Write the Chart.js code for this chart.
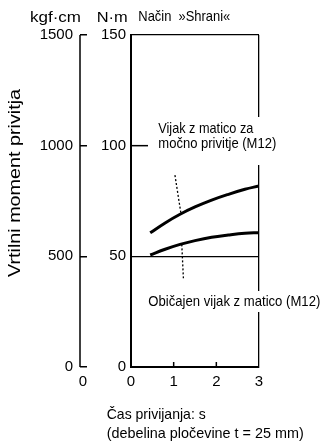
<!DOCTYPE html>
<html>
<head>
<meta charset="utf-8">
<script src="https://cdn.jsdelivr.net/npm/chart.js@4.4.1/dist/chart.umd.min.js"></script>
<style>
    html, body { margin: 0; padding: 0; background: #fff; }
    #wrap { width: 322px; height: 444px; position: relative; }
</style>
</head>
<body>
<div id="wrap"><canvas id="torque-chart"></canvas></div>
<script>
// Tightening time (s) and torque (N·m)
const timeStrong = [0.45, 0.80, 1.15, 1.50, 1.89, 2.28, 2.67, 3.0];
const torqueStrong = [60.6, 65.1, 69.0, 72.3, 75.4, 78.0, 80.3, 81.8];
const timeNormal = [0.45, 0.80, 1.15, 1.50, 1.89, 2.28, 2.67, 3.0];
const torqueNormal = [50.6, 53.2, 55.4, 57.1, 58.6, 59.6, 60.4, 60.7];

// Leader lines from the labels to the curves
const leaderStrongTime = [1.03, 1.17];
const leaderStrongTorque = [86.7, 69.4];
const leaderNormalTime = [1.19, 1.23];
const leaderNormalTorque = [55.4, 39.2];

// Axis ranges / ticks
const xTicks = [0, 1, 2, 3];
const nmTicks = [0, 50, 100, 150];
const kgfTicks = [0, 500, 1000, 1500];

const labelStrong = ['Vijak z matico za', 'močno privitje (M12)'];
const labelNormal = 'Običajen vijak z matico (M12)';
const yTitle = 'Vrtilni moment privitja';
const xTitle = ['Čas privijanja: s', '(debelina pločevine t = 25 mm)'];

const FONT = '"Liberation Sans", Arial, Helvetica, sans-serif';

const toPoints = (xs, ys) => xs.map((v, i) => ({ x: v, y: ys[i] }));

// draw text squeezed/stretched to a given width (narrow face in the original)
function fitText(ctx, text, x, y, width, size, align) {
    ctx.save();
    ctx.font = size + 'px ' + FONT;
    const w = ctx.measureText(text).width;
    const sx = width / w;
    ctx.translate(x, y);
    ctx.scale(sx, 1);
    ctx.textAlign = align || 'left';
    ctx.textBaseline = 'middle';
    ctx.fillText(text, 0, 0);
    ctx.restore();
}

const decorations = {
    id: 'decorations',
    afterDraw(chart) {
        const ctx = chart.ctx;
        const { x, y, y2 } = chart.scales;
        ctx.save();
        ctx.strokeStyle = '#000';
        ctx.fillStyle = '#000';

        // kgf·cm axis line
        const ax = y2.right - 7;
        ctx.lineWidth = 1.5;
        ctx.beginPath();
        ctx.moveTo(ax, y2.getPixelForValue(1500));
        ctx.lineTo(ax, y2.getPixelForValue(0));
        ctx.stroke();

        // inward ticks on the main axes
        [1, 2].forEach(t => {
            const px = x.getPixelForValue(t);
            ctx.beginPath();
            ctx.moveTo(px, y.getPixelForValue(0));
            ctx.lineTo(px, y.getPixelForValue(0) - 5);
            ctx.stroke();
        });
        const p100 = y.getPixelForValue(100);
        ctx.beginPath();
        ctx.moveTo(x.left, p100);
        ctx.lineTo(x.left + 17, p100);
        ctx.stroke();

        // curve labels on white (they break the right border)
        ctx.fillStyle = '#fff';
        ctx.fillRect(155, 117, 125, 48);
        ctx.fillRect(146, 291, 176, 21);
        ctx.fillStyle = '#000';
        fitText(ctx, labelStrong[0], 158.3, 129, 95, 15);
        fitText(ctx, labelStrong[1], 158.3, 143.5, 118, 15);
        fitText(ctx, labelNormal, 148.3, 301.7, 172, 15);

        // headers
        fitText(ctx, 'kgf·cm', 30, 18.3, 51, 15);
        fitText(ctx, 'N·m', 96.7, 18.3, 31, 15);
        fitText(ctx, 'Način  »Shrani«', 138.3, 16.7, 92, 15);

        // zero under the kgf axis
        ctx.font = '15px ' + FONT;
        ctx.textAlign = 'center';
        ctx.textBaseline = 'middle';
        ctx.fillText('0', 83, 382);

        // x title
        fitText(ctx, xTitle[0], 106.7, 415, 99, 15);
        fitText(ctx, xTitle[1], 106.7, 434.3, 197, 15);

        // y title (rotated)
        ctx.save();
        ctx.translate(15.5, 183);
        ctx.rotate(-Math.PI / 2);
        fitText(ctx, yTitle, 0, 0, 188, 17, 'center');
        ctx.restore();

        ctx.restore();
    }
};

const plainTick = v => String(v);

const ctx = document.getElementById('torque-chart').getContext('2d');
new Chart(ctx, {
    type: 'line',
    data: {
        datasets: [
            {
                label: labelStrong.join(' '),
                data: toPoints(timeStrong, torqueStrong),
                borderColor: '#000',
                borderWidth: 3,
                tension: 0.4,
                pointRadius: 0,
                fill: false
            },
            {
                label: labelNormal,
                data: toPoints(timeNormal, torqueNormal),
                borderColor: '#000',
                borderWidth: 3,
                tension: 0.4,
                pointRadius: 0,
                fill: false
            },
            {
                label: 'leader1',
                data: toPoints(leaderStrongTime, leaderStrongTorque),
                borderColor: '#000',
                borderWidth: 1.3,
                borderDash: [2, 2],
                pointRadius: 0,
                fill: false
            },
            {
                label: 'leader2',
                data: toPoints(leaderNormalTime, leaderNormalTorque),
                borderColor: '#000',
                borderWidth: 1.3,
                borderDash: [2, 2],
                pointRadius: 0,
                fill: false
            }
        ]
    },
    options: {
        responsive: true,
        maintainAspectRatio: false,
        animation: false,
        layout: { padding: { top: 35, right: 63, bottom: 0, left: 0 } },
        plugins: {
            legend: { display: false },
            tooltip: { enabled: false }
        },
        scales: {
            x: {
                type: 'linear',
                min: 0,
                max: 3,
                afterBuildTicks: s => { s.ticks = xTicks.map(v => ({ value: v })); },
                ticks: { color: '#000', font: { family: FONT, size: 15 }, padding: 6, callback: plainTick },
                grid: {
                    drawTicks: false,
                    color: c => (c.tick && c.tick.value === 3 ? '#000' : 'transparent'),
                    lineWidth: 1.3
                },
                border: { display: true, color: '#000', width: 2 },
                afterFit: s => { s.height = 77; }
            },
            y: {
                type: 'linear',
                position: 'left',
                weight: 0,
                min: 0,
                max: 150,
                afterBuildTicks: s => { s.ticks = nmTicks.map(v => ({ value: v })); },
                ticks: { color: '#000', font: { family: FONT, size: 15 }, padding: 5, callback: plainTick },
                grid: {
                    drawTicks: false,
                    color: c => (c.tick && (c.tick.value === 50 || c.tick.value === 150) ? '#000' : 'transparent'),
                    lineWidth: 1.3
                },
                border: { display: true, color: '#000', width: 2 },
                afterFit: s => { s.width = 44; }
            },
            y2: {
                type: 'linear',
                position: 'left',
                weight: 1,
                min: 0,
                max: 1500,
                afterBuildTicks: s => { s.ticks = kgfTicks.map(v => ({ value: v })); },
                ticks: { color: '#000', font: { family: FONT, size: 15 }, padding: 7, callback: plainTick },
                grid: {
                    drawOnChartArea: false,
                    drawTicks: true,
                    tickLength: 7,
                    color: '#000',
                    lineWidth: 1.5
                },
                border: { display: false },
                afterFit: s => { s.width = 87; }
            }
        }
    },
    plugins: [decorations]
});
</script>
</body>
</html>
